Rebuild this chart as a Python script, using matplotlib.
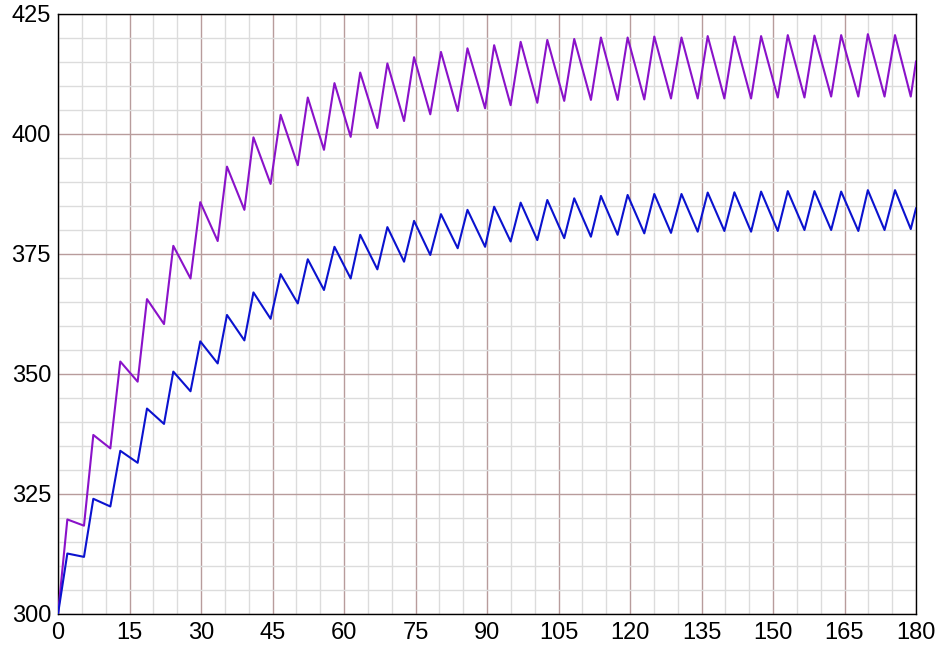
import numpy as np
import matplotlib.pyplot as plt

plt.rcParams['font.family'] = ['Liberation Sans', 'DejaVu Sans']

# times of the peaks (end of each rise) and troughs (end of each decay)
peak_t = [1.96, 7.41, 13.07, 18.67, 24.19, 29.85, 35.45, 41.0, 46.7, 52.4,
          58.0, 63.4, 69.1, 74.7, 80.34, 85.9, 91.5, 97.06, 102.65, 108.3,
          113.9, 119.5, 125.1, 130.8, 136.3, 141.9, 147.5, 153.1, 158.7,
          164.3, 169.9, 175.6]
trough_t = [5.45, 10.98, 16.71, 22.24, 27.8, 33.5, 39.1, 44.6, 50.3, 55.8,
            61.4, 67.0, 72.6, 78.1, 83.85, 89.6, 94.96, 100.55, 106.2, 111.8,
            117.4, 123.0, 128.6, 134.2, 139.8, 145.4, 151.0, 156.6, 162.2,
            167.9, 173.4, 178.9]

purple_peak = [319.7, 337.3, 352.6, 365.6, 376.7, 385.8, 393.2, 399.3, 404.0,
               407.6, 410.6, 412.8, 414.7, 416.0, 417.1, 417.85, 418.5, 419.2,
               419.6, 419.8, 420.1, 420.1, 420.3, 420.1, 420.4, 420.3, 420.4,
               420.6, 420.5, 420.6, 420.8, 420.6]
purple_trough = [318.4, 334.5, 348.4, 360.4, 369.9, 377.7, 384.2, 389.6, 393.5,
                 396.7, 399.4, 401.25, 402.7, 404.1, 404.8, 405.35, 406.0,
                 406.5, 406.9, 407.1, 407.1, 407.2, 407.4, 407.4, 407.4, 407.4,
                 407.6, 407.6, 407.8, 407.8, 407.8, 407.8]
blue_peak = [312.6, 324.0, 334.0, 342.8, 350.5, 356.8, 362.3, 367.0, 370.8,
             373.9, 376.5, 379.0, 380.6, 381.9, 383.3, 384.2, 384.85, 385.7,
             386.25, 386.6, 387.1, 387.3, 387.5, 387.5, 387.8, 387.85, 388.0,
             388.1, 388.1, 388.0, 388.3, 388.3]
blue_trough = [311.9, 322.4, 331.5, 339.6, 346.4, 352.2, 357.0, 361.5, 364.7,
               367.5, 369.9, 371.8, 373.4, 374.8, 376.2, 376.5, 377.6, 377.9,
               378.3, 378.6, 379.0, 379.3, 379.4, 379.65, 379.8, 379.65, 379.8,
               380.0, 380.0, 379.8, 380.0, 380.2]
start = (0, 300.0, 300.0)
end = (180, 415.1, 384.5)


def vertices(peaks, troughs, y0, y1):
    t = [start[0]]
    y = [y0]
    for pt, pv, tt, tv in zip(peak_t, peaks, trough_t, troughs):
        t += [pt, tt]
        y += [pv, tv]
    t.append(end[0])
    y.append(y1)
    return np.array(t), np.array(y)


fig = plt.figure(figsize=(9.39, 6.49), dpi=100)
ax = fig.add_axes([58/939, 35/649, 858/939, 600/649])

tp, yp = vertices(purple_peak, purple_trough, start[1], end[1])
tb, yb = vertices(blue_peak, blue_trough, start[2], end[2])
ax.plot(tp, yp, color='#8a12c9', lw=1.5, zorder=3)
ax.plot(tb, yb, color='#0b12cf', lw=1.5, zorder=3)

ax.set_xlim(0, 180)
ax.set_ylim(300, 425)
ax.set_xticks(np.arange(0, 181, 15))
ax.set_yticks(np.arange(300, 426, 25))
ax.set_xticks(np.arange(0, 181, 5), minor=True)
ax.set_yticks(np.arange(300, 426, 5), minor=True)
ax.grid(which='minor', color='#dcdcdc', lw=1.0, zorder=0)
ax.grid(which='major', color='#b89c9c', lw=1.0, zorder=1)
ax.set_axisbelow(True)
ax.tick_params(which='both', length=0, labelsize=17, colors='black')
ax.tick_params(axis='x', pad=6)
ax.tick_params(axis='y', pad=5)
for s in ax.spines.values():
    s.set_color('black')
    s.set_linewidth(1.0)

fig.savefig('out.png', dpi=100)
